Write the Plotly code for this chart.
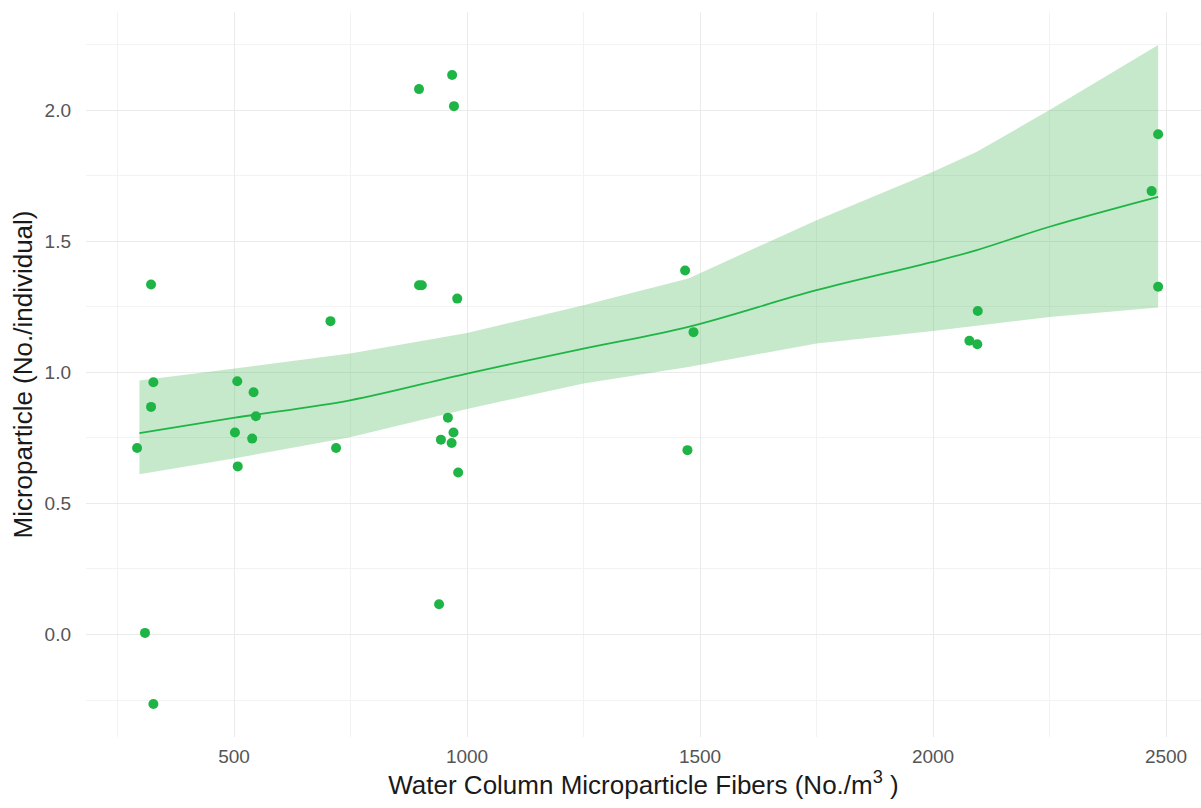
import plotly.graph_objects as go

# Observed samples: water-column fiber concentration vs. microparticles per individual
fiber_conc = [322, 327, 322, 292, 309, 327,
              507, 542, 547, 502, 539, 508,
              707, 719,
              897, 903, 897, 968, 972, 979, 959, 971, 944, 967, 981, 940,
              1468, 1486, 1473,
              2483, 2469, 2483, 2096, 2078, 2095]
micro_per_ind = [1.335, 0.962, 0.868, 0.711, 0.006, -0.265,
                 0.966, 0.924, 0.832, 0.770, 0.747, 0.641,
                 1.195, 0.711,
                 2.080, 1.332, 1.332, 2.134, 2.015, 1.281, 0.827, 0.770, 0.743, 0.730, 0.618, 0.115,
                 1.388, 1.153, 0.703,
                 1.908, 1.691, 1.326, 1.234, 1.120, 1.107]

# Smoothed trend and its confidence band
fit_x = [297, 502, 749, 1000, 1250, 1475, 1750, 2000, 2094, 2250, 2483]
fit_y = [0.768, 0.827, 0.893, 0.995, 1.090, 1.173, 1.313, 1.421, 1.466, 1.555, 1.669]
fit_upper = [0.969, 1.014, 1.072, 1.150, 1.256, 1.358, 1.580, 1.765, 1.841, 2.000, 2.248]
fit_lower = [0.611, 0.672, 0.752, 0.860, 0.957, 1.020, 1.110, 1.157, 1.179, 1.211, 1.247]

x_ticks = [500, 1000, 1500, 2000, 2500]
y_ticks = [0.0, 0.5, 1.0, 1.5, 2.0]
y_tick_text = ["0.0", "0.5", "1.0", "1.5", "2.0"]

GREEN = "#1fb546"

fig = go.Figure()
fig.add_trace(go.Scatter(
    x=fit_x + fit_x[::-1], y=fit_upper + fit_lower[::-1],
    fill="toself", fillcolor="rgba(60,180,75,0.29)",
    line=dict(width=0), mode="lines", hoverinfo="skip", showlegend=False))
fig.add_trace(go.Scatter(
    x=fit_x, y=fit_y, mode="lines",
    line=dict(color=GREEN, width=1.8, shape="spline"), showlegend=False))
fig.add_trace(go.Scatter(
    x=fiber_conc, y=micro_per_ind, mode="markers",
    marker=dict(color=GREEN, size=10, line=dict(width=0)), showlegend=False))

font_family = "Liberation Sans, Arial, sans-serif"
fig.update_layout(
    width=1201, height=808,
    margin=dict(l=86, r=0, t=12, b=71),
    paper_bgcolor="white", plot_bgcolor="white",
    font=dict(family=font_family),
    xaxis=dict(
        range=[182.4, 2575], tickvals=x_ticks, ticks="",
        showline=False, zeroline=False, automargin=False,
        gridcolor="#ebebeb", gridwidth=1.1,
        minor=dict(dtick=250, tick0=0, showgrid=True, gridcolor="#f3f3f3", gridwidth=0.8),
        tickfont=dict(size=19, color="#555555"), ticklabelstandoff=6,
        title=dict(text="Water Column Microparticle Fibers (No./m<sup>3</sup> )",
                   font=dict(size=26, color="#1a1a1a"), standoff=6),
    ),
    yaxis=dict(
        range=[-0.391, 2.374], tickvals=y_ticks, ticktext=y_tick_text, ticks="",
        showline=False, zeroline=False, automargin=False,
        gridcolor="#ebebeb", gridwidth=1.1,
        minor=dict(dtick=0.25, tick0=0, showgrid=True, gridcolor="#f3f3f3", gridwidth=0.8),
        tickfont=dict(size=19, color="#555555"), ticklabelstandoff=14,
        title=dict(text="Microparticle (No./individual)",
                   font=dict(size=26, color="#1a1a1a"), standoff=4),
    ),
)

fig.write_html("out.html")
